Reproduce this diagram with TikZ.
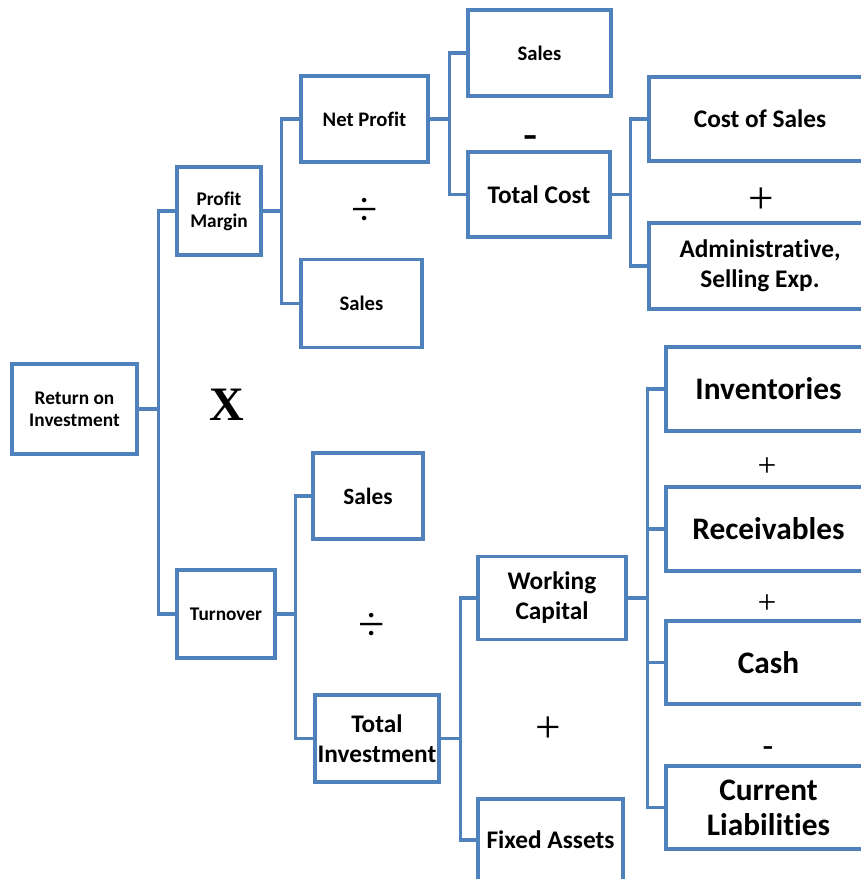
\documentclass[tikz,border=0pt]{standalone}
\usepackage{fontspec}
\setmainfont{Carlito}[Ligatures=CommonOff]
\newfontfamily\serifsym{Liberation Serif}
\usepackage{tikz}
\usetikzlibrary{positioning}
\definecolor{boxblue}{RGB}{79,129,189}
\tikzset{
  box/.style={rectangle, draw=boxblue, fill=white, line width=2.3pt,
    align=center, inner sep=0pt},
  boxsize/.style 2 args={minimum width=#1*0.75pt, minimum height=#2*0.75pt},
  fsmall/.style={font=\bfseries\fontsize{14.5}{16.5}\selectfont},
  fmid/.style={font=\bfseries\fontsize{15.5}{18}\selectfont},
  flarge/.style={font=\bfseries\fontsize{19}{22.5}\selectfont},
  fhuge/.style={font=\bfseries\fontsize{23.5}{26}\selectfont},
  link/.style={draw=boxblue, line width=2.3pt},
  opsign/.style={inner sep=0pt, font=\serifsym\fontsize{#1}{#1}\selectfont},
  opbold/.style={inner sep=0pt, font=\serifsym\bfseries\fontsize{#1}{#1}\selectfont}
}

\begin{document}
\begin{tikzpicture}[x=0.75pt, y=-0.75pt]
  \useasboundingbox (0,0) rectangle (861,879);
  \fill[white] (0,0) rectangle (861,879);

  % Level 0 and 1
  \node[box, fsmall, boxsize={125}{90}] (roi) at (74.5,409) {Return on\\Investment};
  \node[box, fsmall, boxsize={84}{88}] (margin) at (219,211) {Profit\\Margin};
  \node[box, fsmall, boxsize={98}{88}] (turnover) at (226,614) {Turnover};

  % Profit margin branch
  \node[box, fmid, boxsize={127}{86}] (netprofit) at (364.5,119) {Net Profit};
  \node[box, fmid, boxsize={121}{88}] (salesA) at (361.5,303.5) {Sales};
  \node[box, fmid, boxsize={143}{86}] (salesB) at (539.5,53) {Sales};
  \node[box, flarge, boxsize={142}{85}] (totalcost) at (539,194.5) {Total Cost};
  \node[box, flarge, boxsize={222}{84}] (costsales) at (760,119) {Cost of Sales};
  \node[box, flarge, boxsize={222}{86}] (adminexp) at (760,266) {Administrative,\\Selling Exp.};

  % Turnover branch
  \node[box, font=\bfseries\fontsize{17.5}{20}\selectfont, boxsize={110}{86}] (salesC) at (368,496) {Sales};
  \node[box, flarge, boxsize={124}{87}] (totalinv) at (377,738.5) {Total\\Investment};
  \node[box, flarge, boxsize={148}{83}] (workcap) at (552,598) {Working\\Capital};
  \node[box, flarge, boxsize={145}{82}] (fixedassets) at (550.5,840) {Fixed Assets};
  \node[box, fhuge, boxsize={205}{84}] (inventories) at (768.5,389) {Inventories};
  \node[box, fhuge, boxsize={205}{84}] (receivables) at (768.5,529) {Receivables};
  \node[box, fhuge, boxsize={205}{83}] (cash) at (768.5,662.5) {Cash};
  \node[box, fhuge, boxsize={205}{83}] (curliab) at (768.5,807.5) {Current\\Liabilities};

  % Connectors
  \draw[link] (roi.east) -- ++(20,0) |- (margin.west);
  \draw[link] (roi.east) -- ++(20,0) |- (turnover.west);
  \draw[link] (margin.east) -- ++(19,0) |- (netprofit.west);
  \draw[link] (margin.east) -- ++(19,0) |- (salesA.west);
  \draw[link] (netprofit.east) -- ++(20,0) |- (salesB.west);
  \draw[link] (netprofit.east) -- ++(20,0) |- (totalcost.west);
  \draw[link] (totalcost.east) -- ++(19,0) |- (costsales.west);
  \draw[link] (totalcost.east) -- ++(19,0) |- (adminexp.west);
  \draw[link] (turnover.east) -- ++(19,0) |- (salesC.west);
  \draw[link] (turnover.east) -- ++(19,0) |- (totalinv.west);
  \draw[link] (totalinv.east) -- ++(20,0) |- (workcap.west);
  \draw[link] (totalinv.east) -- ++(20,0) |- (fixedassets.west);
  \foreach \n in {inventories, receivables, cash, curliab}
    \draw[link] (workcap.east) -- ++(20,0) |- (\n.west);

  % Operators
  \node[opbold=36] (opX) at (227,405) {X};
  \node[opsign=36] (opdivA) at (365,212) {÷};
  \node[opbold=32] (opminA) at (531,142) {-};
  \node[opsign=34] (opplusA) at (761,201) {+};
  \node[opsign=36] (opdivB) at (372,627) {÷};
  \node[opsign=34] (opplusB) at (548,730) {+};
  \node[opsign=25] (opplusC) at (767,467) {+};
  \node[opsign=25] (opplusD) at (767,604) {+};
  \node[opbold=24] (opminB) at (768,751) {-};
\end{tikzpicture}
\end{document}
